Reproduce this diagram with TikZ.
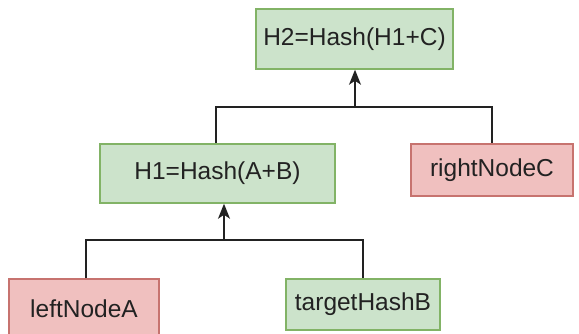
\documentclass[tikz,border=0pt]{standalone}
\usepackage{fontspec}
\setmainfont{Liberation Sans}
\usetikzlibrary{arrows.meta}
\definecolor{gfill}{HTML}{CCE3CB}
\definecolor{gdraw}{HTML}{82B366}
\definecolor{rfill}{HTML}{F0C0BF}
\definecolor{rdraw}{HTML}{C7736F}
\definecolor{txt}{HTML}{222222}
\begin{document}
\begin{tikzpicture}[x=1pt,y=-1pt,
  box/.style={draw, line width=1.5pt, inner sep=0pt, font=\fontsize{24.5}{27}\selectfont, text=txt},
  gbox/.style={box, fill=gfill, draw=gdraw},
  rbox/.style={box, fill=rfill, draw=rdraw},
  conn/.style={line width=1.6pt, draw=txt},
  arr/.style={conn, -{Stealth[length=15pt,width=12pt,inset=4pt]}}]
\clip (0,0) rectangle (579,334);
\useasboundingbox (0,0) rectangle (579,334);
\node[gbox, minimum width=197pt, minimum height=60pt] (H2) at (354.5,39) {H2=Hash(H1+C)};
\node[gbox, minimum width=235pt, minimum height=59pt] (H1) at (217.5,173.5) {H1=Hash(A+B)};
\node[rbox, minimum width=162pt, minimum height=52pt] (C) at (492,170) {rightNodeC};
\node[rbox, minimum width=150pt, minimum height=60pt] (A) at (84,309) {leftNodeA};
\node[gbox, minimum width=154pt, minimum height=51pt] (B) at (363,304.5) {targetHashB};
\coordinate (j1) at (224,240);
\coordinate (j2) at (355,107);
\draw[conn] ([xshift=2pt]A.north) |- (j1) -| (B.north);
\draw[arr] (j1) -- (j1 |- H1.south);
\draw[conn] ([xshift=-1.5pt]H1.north) |- (j2) -| (C.north);
\draw[arr] (j2) -- (j2 |- H2.south);
\end{tikzpicture}
\end{document}
